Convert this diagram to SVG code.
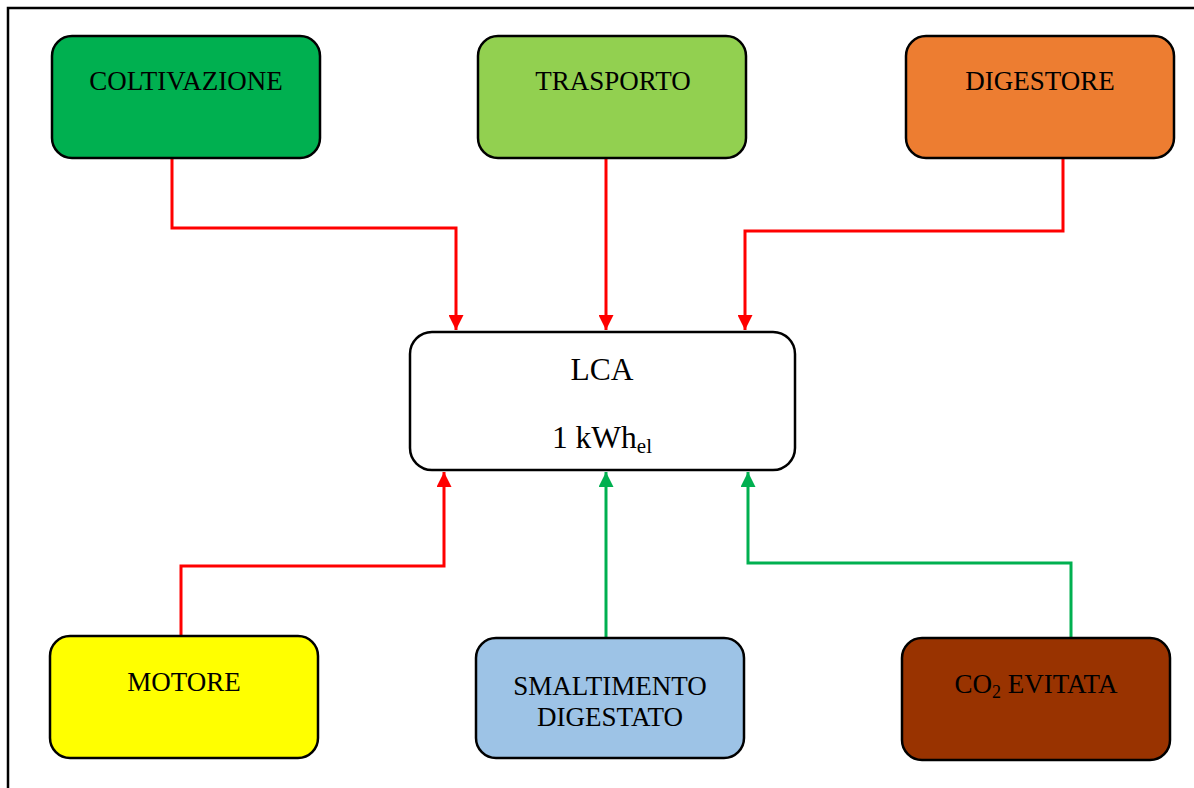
<svg xmlns="http://www.w3.org/2000/svg" width="1194" height="788" viewBox="0 0 1194 788">
<defs>
<style>
.box{stroke:#000;stroke-width:2.5}
.lbl{font-family:"Liberation Serif","Times New Roman",serif;font-size:27px;fill:#000;text-anchor:middle}
.big{font-family:"Liberation Serif","Times New Roman",serif;font-size:31.5px;fill:#000;text-anchor:middle}
.red{fill:none;stroke:#FF0000;stroke-width:3}
.grn{fill:none;stroke:#00B050;stroke-width:3}
</style>
<marker id="ar" viewBox="0 0 10 10" refX="10" refY="5" markerWidth="16" markerHeight="15" markerUnits="userSpaceOnUse" orient="auto"><path d="M0,0 L10,5 L0,10 Z" fill="#FF0000"/></marker>
<marker id="ag" viewBox="0 0 10 10" refX="10" refY="5" markerWidth="16" markerHeight="15" markerUnits="userSpaceOnUse" orient="auto"><path d="M0,0 L10,5 L0,10 Z" fill="#00B050"/></marker>
</defs>
<rect width="1194" height="788" fill="#fff"/>
<path d="M8,788 V8 H1194" fill="none" stroke="#000" stroke-width="2.5"/>
<g id="connectors">
<path class="red" d="M172,158 V228 H456 V330" marker-end="url(#ar)"/>
<path class="red" d="M606,158 V330" marker-end="url(#ar)"/>
<path class="red" d="M1063,158 V231 H745 V330" marker-end="url(#ar)"/>
<path class="red" d="M181,636 V566 H444 V472" marker-end="url(#ar)"/>
<path class="grn" d="M606,638 V472" marker-end="url(#ag)"/>
<path class="grn" d="M1071,638 V563 H748 V472" marker-end="url(#ag)"/>
</g>
<g id="coltivazione"><rect class="box" x="52" y="36" width="268" height="122" rx="20" fill="#00B050"/><text class="lbl" x="186" y="90">COLTIVAZIONE</text></g>
<g id="trasporto"><rect class="box" x="478" y="36" width="268" height="122" rx="20" fill="#92D050"/><text class="lbl" x="613" y="90">TRASPORTO</text></g>
<g id="digestore"><rect class="box" x="906" y="36" width="268" height="122" rx="20" fill="#ED7D31"/><text class="lbl" x="1040" y="90">DIGESTORE</text></g>
<g id="lca"><rect class="box" x="410" y="332" width="385" height="138" rx="22" fill="#fff"/><text class="big" x="602" y="380">LCA</text><text class="big" x="602" y="448">1 kWh<tspan font-size="21" dy="5">el</tspan></text></g>
<g id="motore"><rect class="box" x="50" y="636" width="268" height="122" rx="20" fill="#FFFF00"/><text class="lbl" x="184" y="691">MOTORE</text></g>
<g id="smaltimento"><rect class="box" x="476" y="638" width="268" height="120" rx="20" fill="#9DC3E6"/><text class="lbl" x="610" y="695">SMALTIMENTO</text><text class="lbl" x="610" y="726">DIGESTATO</text></g>
<g id="co2"><rect class="box" x="902" y="638" width="268" height="122" rx="20" fill="#993300"/><text class="lbl" x="1036" y="693">CO<tspan font-size="18" dy="5">2</tspan><tspan dy="-5"> EVITATA</tspan></text></g>
</svg>
